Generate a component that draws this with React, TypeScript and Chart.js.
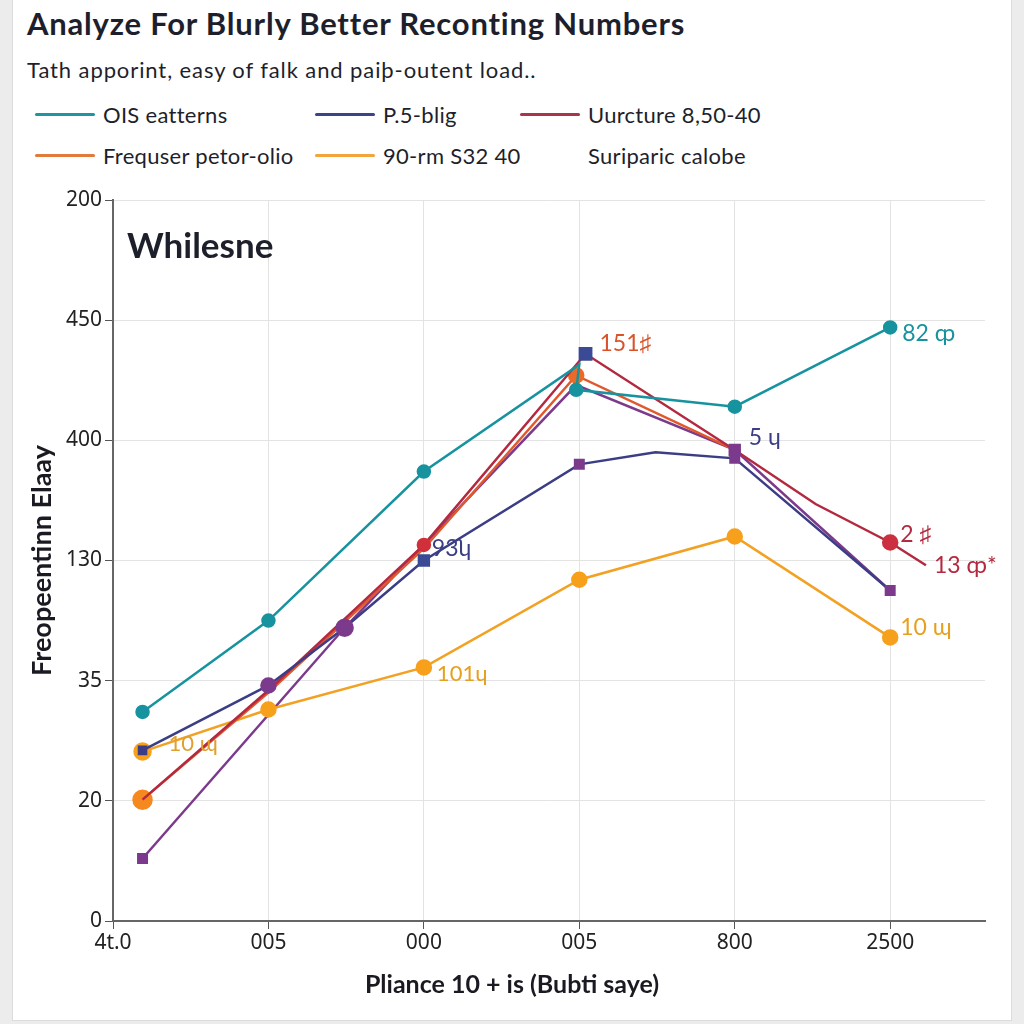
import React, { useEffect, useRef } from "react";
import { Chart, registerables } from "chart.js";

Chart.register(...registerables);

// ---------- data ----------
const titleText = "Analyze For Blurly Better Reconting Numbers";
const subtitleText = "Tath apporint, easy of falk and paiþ-outent load..";
const innerHeading = "Whilesne";
const xAxisTitle = "Pliance 10 + is (Bubti saye)";
const yAxisTitle = "Freopeentinn Elaay";

const xTickValues = [0, 1, 2, 3, 4, 5];
const xTickLabels = ["4t.0", "005", "000", "005", "800", "2500"];
const yTickLabels = ["0", "20", "35", "130", "400", "450", "200"];

const seriesNames = [
  "OIS eatterns",
  "P.5-blig",
  "Uurcture 8,50-40",
  "Frequser petor-olio",
  "90-rm S32 40",
  "Suriparic calobe",
];
const legendColors = ["#1a97a3", "#3b4488", "#a8364a", "#e27a3c", "#f0a63a", ""];

const tealX = [0.19, 1, 2, 3.0, 2.98, 4, 5];
const tealY = [1.74, 2.5, 3.74, 4.63, 4.42, 4.28, 4.94];

const navyX = [0.19, 1, 1.49, 2, 3, 3.49, 4, 5];
const navyY = [1.42, 1.96, 2.44, 3.0, 3.8, 3.9, 3.85, 2.75];

const crimsonX = [0.19, 1, 2, 3.04, 4, 4.52, 5, 5.23];
const crimsonY = [1.01, 1.92, 3.13, 4.72, 3.92, 3.47, 3.15, 2.96];

const orangeX = [0.19, 1, 2, 2.98, 4];
const orangeY = [1.01, 1.9, 3.1, 4.54, 3.92];

const amberX = [0.19, 1, 2, 3, 4, 5];
const amberY = [1.41, 1.76, 2.11, 2.84, 3.2, 2.36];

const purpleX = [0.19, 1.49, 2.98, 4, 5];
const purpleY = [0.52, 2.44, 4.46, 3.92, 2.75];

// point labels: dataset index, point index, text
const labelDs = [0, 2, 2, 1, 2, 2, 4, 4, 4];
const labelIdx = [6, 3, 4, 3, 6, 7, 5, 2, 0];
const labelText = ["82 ȹ", "151♯", "5 ɥ", "93ʮ", "2 ♯", "13 ȹ*", "10 ɰ", "101ɥ", "10 ɰ"];

// ---------- helpers ----------
const pts = (xs: number[], ys: number[]) => xs.map((x, i) => ({ x, y: ys[i] }));

const TEAL = "#17939f";
const NAVY = "#3b3d85";
const CRIMSON = "#b3293f";
const ORANGE_LINE = "#e0582c";
const ORANGE_DOT = "#f5891f";
const AMBER = "#f2a122";
const AMBER_DOT = "#f7a01c";
const PURPLE = "#7c3a8c";

const labelColors = [TEAL, "#d9532a", NAVY, NAVY, CRIMSON, CRIMSON, "#e6a020", "#e6a020", "#e0a030"];
const labelDx = [12, 14, 14, 8, 10, 8, 10, 13, 26];
const labelDy = [6, -10, -12, -12, -8, 0, -10, 6, -8];
const labelSize = [23, 23, 23, 23, 23, 23, 23, 22, 22];

const labelPlugin = {
  id: "pointLabelsAndHeading",
  afterDatasetsDraw(chart: any) {
    const ctx = chart.ctx;
    ctx.save();
    ctx.textBaseline = "middle";
    ctx.textAlign = "left";
    ctx.font = "bold 35px Lato";
    ctx.fillStyle = "#1d1f2b";
    ctx.fillText(innerHeading, chart.chartArea.left + 14, chart.chartArea.top + 47);
    for (let i = 0; i < labelText.length; i++) {
      const el = chart.getDatasetMeta(labelDs[i]).data[labelIdx[i]];
      if (!el) continue;
      ctx.font = `${labelSize[i]}px Lato`;
      ctx.fillStyle = labelColors[i];
      ctx.fillText(labelText[i], el.x + labelDx[i], el.y + labelDy[i]);
    }
    // x axis title, centred on the page as in the reference
    ctx.font = "bold 25px Lato";
    ctx.fillStyle = "#1a1a22";
    ctx.textAlign = "center";
    ctx.fillText(xAxisTitle, chart.width / 2, chart.chartArea.bottom + 64);
    ctx.restore();
  },
};

export default function App() {
  const canvasRef = useRef<HTMLCanvasElement | null>(null);

  useEffect(() => {
    if (!canvasRef.current) return;
    const chart = new Chart(canvasRef.current, {
      type: "line",
      data: {
        datasets: [
          {
            label: seriesNames[0],
            data: pts(tealX, tealY),
            borderColor: TEAL,
            backgroundColor: TEAL,
            borderWidth: 2.5,
            pointRadius: [6, 6, 6, 0, 6, 6, 6],
            pointBackgroundColor: TEAL,
            pointBorderColor: TEAL,
            pointStyle: "circle",
          },
          {
            label: seriesNames[1],
            data: pts(navyX, navyY),
            borderColor: NAVY,
            backgroundColor: NAVY,
            borderWidth: 2.5,
            pointStyle: ["rect", "circle", "circle", "rect", "rect", "circle", "rect", "rect"],
            pointRadius: [5, 7, 8, 7, 6, 0, 6, 6],
            pointBackgroundColor: [NAVY, PURPLE, PURPLE, "#3a4a94", PURPLE, NAVY, PURPLE, PURPLE],
            pointBorderColor: [NAVY, PURPLE, PURPLE, "#3a4a94", PURPLE, NAVY, PURPLE, PURPLE],
          },
          {
            label: seriesNames[2],
            data: pts(crimsonX, crimsonY),
            borderColor: CRIMSON,
            backgroundColor: CRIMSON,
            borderWidth: 2.5,
            pointStyle: ["circle", "circle", "circle", "rect", "rect", "circle", "circle", "circle"],
            pointRadius: [0, 0, 6, 8, 7, 0, 7, 0],
            pointBackgroundColor: [CRIMSON, CRIMSON, "#d0303a", "#3a4a94", PURPLE, CRIMSON, "#cc3040", CRIMSON],
            pointBorderColor: [CRIMSON, CRIMSON, "#d0303a", "#3a4a94", PURPLE, CRIMSON, "#cc3040", CRIMSON],
          },
          {
            label: seriesNames[3],
            data: pts(orangeX, orangeY),
            borderColor: ORANGE_LINE,
            backgroundColor: ORANGE_LINE,
            borderWidth: 2.5,
            pointStyle: "circle",
            pointRadius: [9, 0, 0, 7, 0],
            pointBackgroundColor: [ORANGE_DOT, ORANGE_DOT, ORANGE_DOT, "#ec6a28", ORANGE_DOT],
            pointBorderColor: [ORANGE_DOT, ORANGE_DOT, ORANGE_DOT, "#ec6a28", ORANGE_DOT],
          },
          {
            label: seriesNames[4],
            data: pts(amberX, amberY),
            borderColor: AMBER,
            backgroundColor: AMBER,
            borderWidth: 2.5,
            pointStyle: "circle",
            pointRadius: [8, 7, 7, 7, 7, 7],
            pointBackgroundColor: AMBER_DOT,
            pointBorderColor: AMBER_DOT,
          },
          {
            label: seriesNames[5],
            data: pts(purpleX, purpleY),
            borderColor: PURPLE,
            backgroundColor: PURPLE,
            borderWidth: 2.5,
            pointStyle: "rect",
            pointRadius: [6, 0, 0, 0, 0],
            pointBackgroundColor: PURPLE,
            pointBorderColor: PURPLE,
          },
        ],
      },
      options: {
        animation: false,
        responsive: false,
        maintainAspectRatio: false,
        layout: { padding: { left: 0, top: 200, right: 39, bottom: 0 } },
        plugins: {
          legend: { display: false },
          title: { display: false },
          tooltip: { enabled: false },
        },
        elements: { line: { tension: 0 } },
        scales: {
          x: {
            type: "linear",
            min: 0,
            max: 5.61,
            afterFit: (s: any) => {
              s.height = 103;
            },
            afterBuildTicks: (s: any) => {
              s.ticks = xTickValues.map((v) => ({ value: v }));
            },
            ticks: {
              callback: (v: any) => xTickLabels[xTickValues.indexOf(Number(v))] ?? "",
              font: { family: "Noto Sans", size: 21 },
              color: "#222",
              padding: 1,
              maxRotation: 0,
              autoSkip: false,
            },
            grid: {
              color: "#e3e3e3",
              lineWidth: 1,
              tickLength: 8,
              tickColor: "#555",
            },
            border: { color: "#666", width: 2 },
            title: { display: false },
          },
          y: {
            type: "linear",
            min: 0,
            max: 6,
            afterFit: (s: any) => {
              s.width = 113;
            },
            ticks: {
              stepSize: 1,
              callback: (v: any) => yTickLabels[Math.round(Number(v))] ?? "",
              font: { family: "Noto Sans", size: 21 },
              color: "#222",
              padding: 3,
            },
            grid: {
              color: "#e3e3e3",
              lineWidth: 1,
              tickLength: 8,
              tickColor: "#555",
            },
            border: { color: "#666", width: 2 },
            title: {
              display: true,
              text: yAxisTitle,
              font: { family: "Lato", size: 27, weight: "bold" },
              color: "#1a1a22",
              padding: { top: 26, bottom: 0 },
            },
          },
        },
      },
      plugins: [labelPlugin],
    } as any);
    return () => chart.destroy();
  }, []);

  const legendRows = [
    [0, 1, 2],
    [3, 4, 5],
  ];
  const colLeft = [35, 315, 520];
  const rowTop = [114, 155];

  return (
    <div
      style={{
        position: "absolute",
        left: 0,
        top: 0,
        width: 1024,
        height: 1024,
        background: "#ececec",
        overflow: "hidden",
        fontFamily: "Lato, sans-serif",
      }}
    >
      <div
        style={{
          position: "absolute",
          left: 12,
          top: 0,
          width: 998,
          height: 1020,
          background: "#ffffff",
          borderLeft: "1px solid #dcdcdc",
          borderRight: "1px solid #dcdcdc",
          borderBottom: "1px solid #dcdcdc",
        }}
      />
      <div
        style={{
          position: "absolute",
          left: 27,
          top: 4,
          fontSize: 31,
          letterSpacing: 0.8,
          fontWeight: 700,
          color: "#1e1f2c",
          whiteSpace: "nowrap",
        }}
      >
        {titleText}
      </div>
      <div
        style={{
          position: "absolute",
          left: 27,
          top: 56,
          fontSize: 22,
          letterSpacing: 0.9,
          color: "#1e1f2c",
          whiteSpace: "nowrap",
        }}
      >
        {subtitleText}
      </div>
      {legendRows.map((row, r) =>
        row.map((si, c) => (
          <div
            key={`${r}-${c}`}
            style={{
              position: "absolute",
              left: colLeft[c],
              top: rowTop[r] - 14,
              height: 28,
              display: "flex",
              alignItems: "center",
              whiteSpace: "nowrap",
              fontSize: 22,
              letterSpacing: 0.3,
              color: "#1e1f2c",
            }}
          >
            <span
              style={{
                display: "inline-block",
                width: 60,
                height: 3,
                borderRadius: 2,
                background: legendColors[si] || "transparent",
                marginRight: 8,
              }}
            />
            {seriesNames[si]}
          </div>
        ))
      )}
      <canvas
        ref={canvasRef}
        width={1024}
        height={1024}
        style={{ position: "absolute", left: 0, top: 0, width: 1024, height: 1024 }}
      />
    </div>
  );
}
